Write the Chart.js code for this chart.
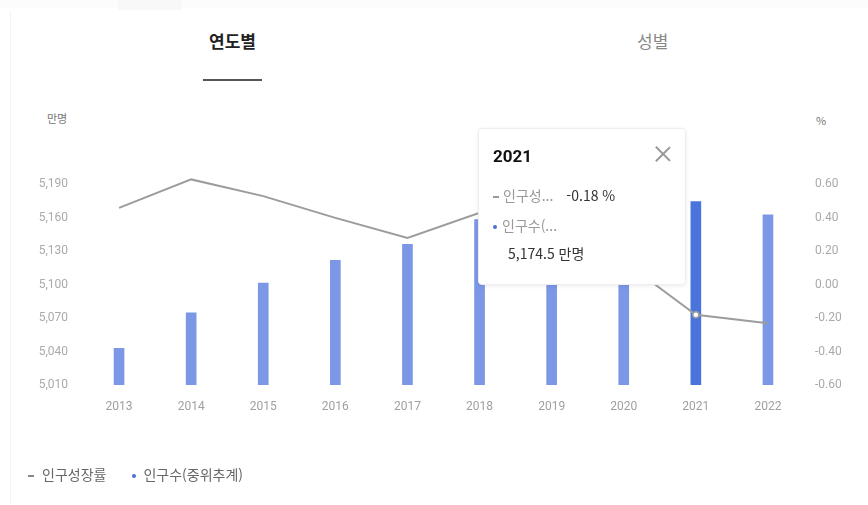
<!DOCTYPE html>
<html lang="ko">
<head>
<meta charset="utf-8">
<script src="https://cdn.jsdelivr.net/npm/chart.js@4.4.1/dist/chart.umd.min.js"></script>
<style>
  html, body { margin: 0; padding: 0; background: #fff; }
  body { width: 868px; height: 505px; position: relative; overflow: hidden;
         font-family: 'Noto Sans CJK KR', 'Noto Sans', sans-serif; }
  #wrap { position: absolute; left: 0; top: 0; width: 868px; height: 505px; }
  .topbar { position: absolute; left: 0; top: 0; width: 868px; height: 8px; background: #fcfcfc; }
  .topbar .patch { position: absolute; left: 118px; top: 0; width: 64px; height: 10px; background: #f8f8f8; }
  .edge { position: absolute; left: 10px; top: 12px; width: 1px; height: 493px; background: #f3f3f3; }
  .tab { position: absolute; top: 28px; font-size: 17px; }
  .tab.on { left: 209px; color: #222; font-weight: 700; }
  .tab.off { left: 637px; color: #888; }
  .underline { position: absolute; left: 203px; top: 79px; width: 59px; height: 2px; background: #555; }
  .unit { position: absolute; font-size: 11px; color: #777; }
  .legend { position: absolute; left: 28px; top: 464px; font-size: 14px; color: #666; white-space: nowrap; }
  .legend .dash { display: inline-block; width: 6px; height: 2px; background: #888; vertical-align: middle; margin-right: 8px; }
  .legend .dot { display: inline-block; width: 4px; height: 4px; border-radius: 50%; background: #4b6fd6; vertical-align: middle; margin: 0 7px 0 26px; }
  #tip { position: absolute; left: 478px; top: 128px; width: 208px; height: 157px; background: #fff;
         border: 1px solid #eeeeee; border-radius: 4px; box-shadow: 0 1px 4px rgba(0,0,0,0.08); box-sizing: border-box; }
  #tip .title { position: absolute; left: 14px; top: 17px; font-size: 17px; font-weight: 700; color: #111; font-family: Roboto, 'Noto Sans CJK KR', sans-serif; }
  #tip .close { position: absolute; right: 13px; top: 16px; width: 18px; height: 18px; }
  #tip .close:before, #tip .close:after { content: ''; position: absolute; left: 8px; top: -1px; width: 1.5px; height: 20px; background: #999; }
  #tip .close:before { transform: rotate(45deg); }
  #tip .close:after { transform: rotate(-45deg); }
  #tip .row { position: absolute; left: 14px; font-size: 14px; color: #999; white-space: nowrap; }
  #tip .val { color: #333; }
  #tip .rdash { display: inline-block; width: 6px; height: 2px; background: #999; vertical-align: middle; margin-right: 4px; }
  #tip .rdot { display: inline-block; width: 4px; height: 4px; border-radius: 50%; background: #4b6fd6; vertical-align: middle; margin-right: 5px; }
</style>
</head>
<body>
<div id="wrap">
  <div class="topbar"><div class="patch"></div></div>
  <div class="edge"></div>
  <div class="tab on">연도별</div>
  <div class="tab off">성별</div>
  <div class="underline"></div>
  <div class="unit" style="left:47px; top:110px;">만명</div>
  <div class="unit" style="left:816px; top:112px;">%</div>
  <canvas id="chart" width="868" height="505" style="position:absolute;left:0;top:0;"></canvas>
  <div id="tip">
    <div class="title" id="tipTitle"></div>
    <div class="close"></div>
    <div class="row" style="top:56px;"><span class="rdash"></span><span id="tipName1"></span><span class="val" id="tipVal1" style="margin-left:13px;"></span></div>
    <div class="row" style="top:86px;"><span class="rdot"></span><span id="tipName2"></span></div>
    <div class="row val" style="top:114px; left:29px; color:#333;" id="tipVal2"></div>
  </div>
  <div class="legend"><span class="dash"></span><span id="leg1"></span><span class="dot"></span><span id="leg2"></span></div>
</div>
<script>
// Korean population (mid-year estimate, 10k persons) and growth rate (%)
const years = ['2013', '2014', '2015', '2016', '2017', '2018', '2019', '2020', '2021', '2022'];
const population = [5042.9, 5074.7, 5101.5, 5121.8, 5136.2, 5158.5, 5176.5, 5183.6, 5174.5, 5162.8];
const growthRate = [0.46, 0.63, 0.53, 0.40, 0.28, 0.43, 0.35, 0.14, -0.18, -0.23];
const seriesNames = ['인구성장률', '인구수(중위추계)'];
const leftTicks = [5010, 5040, 5070, 5100, 5130, 5160, 5190];
const rightTicks = [-0.6, -0.4, -0.2, 0.0, 0.2, 0.4, 0.6];
const selectedIndex = 8;

const barColors = years.map((y, i) => i === selectedIndex ? '#4a74dc' : '#7b97e6');
const pointRadii = years.map((y, i) => i === selectedIndex ? 3 : 0);

const tickFont = { family: "Roboto, 'Noto Sans CJK KR', sans-serif", size: 12 };

new Chart(document.getElementById('chart'), {
  data: {
    labels: years,
    datasets: [
      {
        type: 'line',
        label: seriesNames[0],
        data: growthRate,
        yAxisID: 'yRate',
        borderColor: '#9c9c9c',
        borderWidth: 2,
        pointRadius: pointRadii,
        pointBackgroundColor: '#ffffff',
        pointBorderColor: '#9c9c9c',
        pointBorderWidth: 1.5,
        tension: 0,
        order: 0
      },
      {
        type: 'bar',
        label: seriesNames[1],
        data: population,
        yAxisID: 'yPop',
        backgroundColor: barColors,
        barThickness: 10,
        order: 1
      }
    ]
  },
  options: {
    responsive: false,
    animation: false,
    layout: { padding: { top: 151, left: 0, right: 0, bottom: 0 } },
    plugins: { legend: { display: false }, tooltip: { enabled: false } },
    scales: {
      x: {
        grid: { display: false, drawTicks: false },
        border: { display: false },
        ticks: { color: '#a0a0a0', font: tickFont, padding: 15 },
        afterFit: s => { s.height = 120; }
      },
      yPop: {
        position: 'left',
        min: 5010, max: 5220,
        grid: { display: false, drawTicks: false },
        border: { display: false },
        afterBuildTicks: s => { s.ticks = leftTicks.map(v => ({ value: v })); },
        ticks: { color: '#aaaaaa', font: tickFont, padding: 15,
                 callback: v => v.toLocaleString('en-US') },
        afterFit: s => { s.width = 83; }
      },
      yRate: {
        position: 'right',
        min: -0.6, max: 0.8,
        grid: { display: false, drawTicks: false },
        border: { display: false },
        afterBuildTicks: s => { s.ticks = rightTicks.map(v => ({ value: v })); },
        ticks: { color: '#aaaaaa', font: tickFont, padding: 11,
                 callback: v => Number(v).toFixed(2) },
        afterFit: s => { s.width = 64; }
      }
    }
  }
});

// Detail box for the selected year
const shorten = (name, n) => name.slice(0, n) + '...';
document.getElementById('tipTitle').textContent = years[selectedIndex];
document.getElementById('tipName1').textContent = shorten(seriesNames[0], 3);
document.getElementById('tipVal1').textContent = growthRate[selectedIndex].toFixed(2) + ' %';
document.getElementById('tipName2').textContent = shorten(seriesNames[1], 4);
document.getElementById('tipVal2').textContent =
  population[selectedIndex].toLocaleString('en-US', { minimumFractionDigits: 1, maximumFractionDigits: 1 }) + ' 만명';
document.getElementById('leg1').textContent = seriesNames[0];
document.getElementById('leg2').textContent = seriesNames[1];
</script>
</body>
</html>
